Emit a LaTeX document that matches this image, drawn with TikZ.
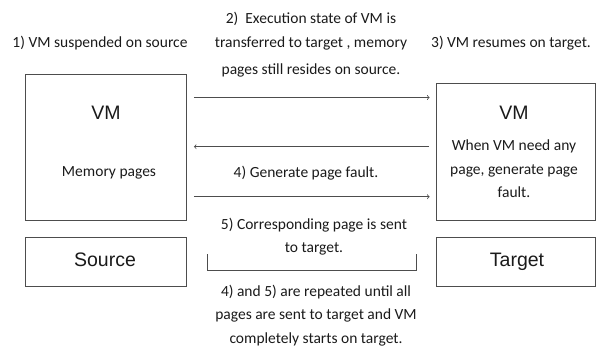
\documentclass[tikz,border=0pt]{standalone}
\usepackage{fontspec}
\setmainfont{Carlito}
\newfontfamily\arialfont{Liberation Sans}
\definecolor{linegray}{HTML}{4D4D4D}
\definecolor{txtgray}{HTML}{1A1A1A}
\begin{document}
\begin{tikzpicture}[x=1pt, y=-1pt,
    box/.style={draw=linegray, line width=0.8pt, inner sep=0pt},
    note/.style={text=txtgray, font=\fontsize{15.5}{23.5}\selectfont, align=center, inner sep=0pt},
    big/.style={text=txtgray, font=\arialfont\fontsize{19.5}{22}\selectfont, inner sep=0pt},
    flow/.style={->, draw=linegray, line width=0.8pt}]
    \useasboundingbox (0,0) rectangle (596,356);

    \node[box, minimum width=161pt, minimum height=146pt] (vmsrc) at (105.5,147) {};
    \node[box, minimum width=161pt, minimum height=49pt] (src) at (105.5,261.5) {};
    \node[box, minimum width=159pt, minimum height=137pt] (vmtgt) at (515.5,151.5) {};
    \node[box, minimum width=159pt, minimum height=49pt] (tgt) at (515.5,261.5) {};

    \node[big] (vm1) at (106,112.5) {VM};
    \node[note] (mem) at (109,172.5) {Memory pages};
    \node[big, anchor=base] (srclbl) at (105,266.5) {Source};
    \node[big] (vm2) at (514,112.5) {VM};
    \node[note] (need) at (514,169) {When VM need any\\page, generate page\\fault.};
    \node[big, anchor=base] (tgtlbl) at (517,266.5) {Target};

    \node[note] (step1) at (100,43) {1) VM suspended on source};
    \node[note] (step2) at (311,45) {2)\ \ Execution state of VM is\\transferred to target , memory\\[4pt]pages still resides on source.};
    \node[note] (step3) at (511,43) {3) VM resumes on target.};
    \node[note] (step4) at (306,173) {4) Generate page fault.};
    \node[note] (step5) at (314,236.5) {5) Corresponding page is sent\\to target.};
    \node[note] (repeat) at (316,315.5) {4) and 5) are repeated until all\\pages are sent to target and VM\\completely starts on target.};

    \coordinate (a1) at ([yshift=49.5pt]vmsrc.east);
    \coordinate (a2) at ([yshift=0.3pt]vmsrc.east);
    \coordinate (a3) at ([yshift=-49.7pt]vmsrc.east);
    \draw[flow, shorten <=7.5pt, shorten >=6pt] (a1) -- (a1 -| vmtgt.west);
    \draw[flow, shorten <=6.5pt, shorten >=7.5pt] (a2 -| vmtgt.west) -- (a2);
    \draw[flow, shorten <=7.5pt, shorten >=6pt] (a3) -- (a3 -| vmtgt.west);

    \coordinate (br1) at (207,254);
    \coordinate (br2) at (416,254);
    \draw[linegray, line width=0.8pt] (br1) -- (br1 |- 0,270.5) -- (br2 |- 0,270.5) -- (br2);
\end{tikzpicture}
\end{document}
